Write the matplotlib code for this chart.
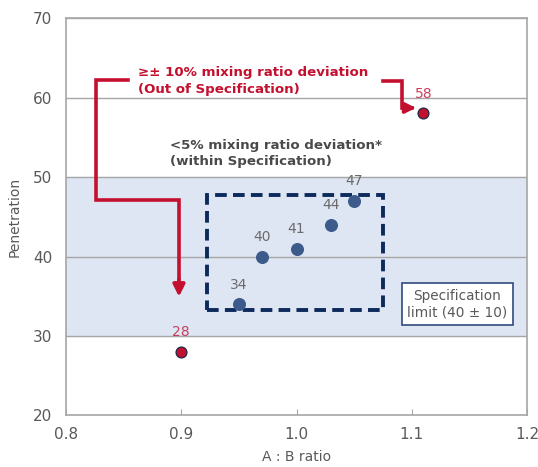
import matplotlib
matplotlib.use("Agg")
import matplotlib.pyplot as plt
from matplotlib.patches import Rectangle

# mix ratio vs penetration results
ratio_in = [0.95, 0.97, 1.0, 1.03, 1.05]
pen_in = [34, 40, 41, 44, 47]
ratio_out = [0.9, 1.11]
pen_out = [28, 58]

spec_low, spec_high = 30, 50

navy = '#0d2a5c'
blue = '#3c5a8a'
red = '#c4102f'
red_lbl = '#c8405e'
gray = '#595959'

plt.rcParams['font.family'] = ['DejaVu Sans']

fig = plt.figure(figsize=(5.38, 4.67), dpi=100)
ax = fig.add_axes([0.1227, 0.1103, 0.857, 0.851])

ax.axhspan(spec_low, spec_high, color='#dfe6f3', zorder=0)
for y in [30, 40, 50, 60, 70]:
    ax.axhline(y, color='#a6a6a6', lw=1.0, zorder=1)

ax.scatter(ratio_in, pen_in, s=70, color=blue, zorder=4)
ax.scatter(ratio_out, pen_out, s=60, color=red, edgecolor='#2b2b4a', lw=1.0, zorder=4)

for x, y in zip(ratio_in, pen_in):
    ax.annotate(str(y), (x, y), xytext=(0, 9), textcoords='offset points',
                ha='center', va='bottom', fontsize=10, color='#6b6b6b', zorder=5)
for x, y in zip(ratio_out, pen_out):
    ax.annotate(str(y), (x, y), xytext=(0, 9), textcoords='offset points',
                ha='center', va='bottom', fontsize=10, color=red_lbl, zorder=5)

# within-spec dashed region
ax.add_patch(Rectangle((0.922, 33.3), 0.153, 14.4, fill=False, ec=navy,
                       lw=2.8, ls=(0, (3, 1.6)), zorder=3))

# spec limit box
ax.text(1.1395, 34.0, 'Specification\nlimit (40 ± 10)', ha='center', va='center',
        fontsize=9.8, color=gray, linespacing=1.25, zorder=6,
        bbox=dict(boxstyle='square,pad=0.4', fc='white', ec='#2f4a7a', lw=1.2))

# callout texts
ax.text(0.8625, 62.1, '≥± 10% mixing ratio deviation\n(Out of Specification)',
        ha='left', va='center', fontsize=9.6, fontweight='bold', color=red,
        linespacing=1.4, zorder=6)
ax.text(0.8905, 53.0, '<5% mixing ratio deviation*\n(within Specification)',
        ha='left', va='center', fontsize=9.6, fontweight='bold', color='#4a4a4a',
        linespacing=1.3, zorder=6)

ax.plot([0.854, 0.826, 0.826, 0.898, 0.898], [62.2, 62.2, 47.1, 47.1, 37.0],
        color=red, lw=2.6, solid_joinstyle='miter', zorder=5)
ax.annotate('', xy=(0.898, 34.6), xytext=(0.898, 37.5),
            arrowprops=dict(arrowstyle='-|>,head_width=0.35,head_length=0.7',
                            color=red, lw=2.6), zorder=5)
ax.plot([1.075, 1.0915, 1.0915, 1.097], [62.1, 62.1, 58.7, 58.7],
        color=red, lw=2.6, solid_joinstyle='miter', zorder=5)
ax.annotate('', xy=(1.106, 58.7), xytext=(1.095, 58.7),
            arrowprops=dict(arrowstyle='-|>,head_width=0.3,head_length=0.6',
                            color=red, lw=2.6), zorder=5)

ax.set_xlim(0.8, 1.2)
ax.set_ylim(20, 70)
ax.set_xticks([0.8, 0.9, 1.0, 1.1, 1.2])
ax.set_xticklabels(['0.8', '0.9', '1.0', '1.1', '1.2'])
ax.set_yticks([20, 30, 40, 50, 60, 70])
ax.tick_params(axis='x', direction='in', length=4, color='#a6a6a6',
               labelsize=11, labelcolor=gray, pad=8)
ax.tick_params(axis='y', length=0, labelsize=11, labelcolor=gray, pad=10)
for s in ax.spines.values():
    s.set_color('#a6a6a6')
    s.set_linewidth(1.2)

ax.set_xlabel('A : B ratio', fontsize=10, color=gray, labelpad=6)
ax.set_ylabel('Penetration', fontsize=10, color=gray, labelpad=8)

fig.savefig('out.png', dpi=100)
